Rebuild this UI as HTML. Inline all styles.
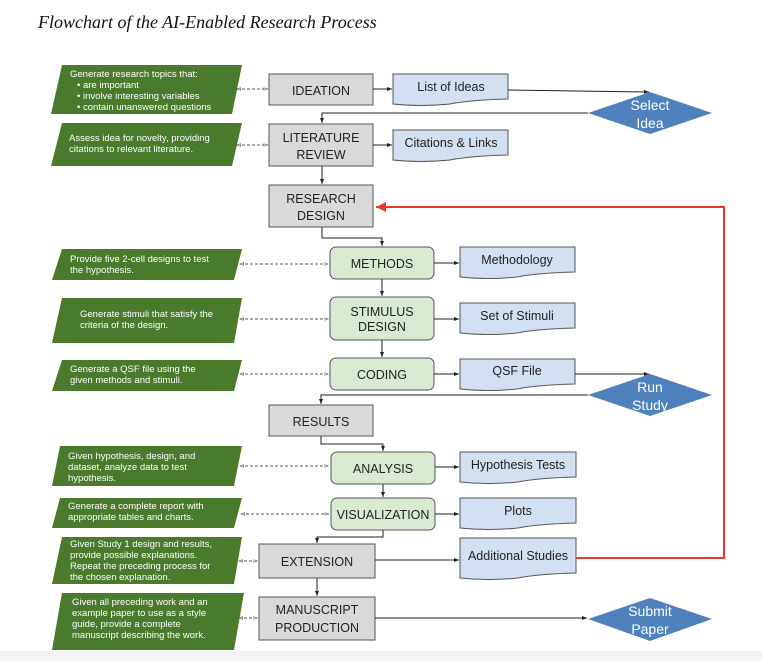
<!DOCTYPE html>
<html><head><style>
body{margin:0;background:#fff;}
svg{display:block;}
.w{font-family:"Liberation Sans",sans-serif;font-size:9.5px;fill:#fff;}
.b{font-family:"Liberation Sans",sans-serif;font-size:12.5px;fill:#222;text-anchor:middle;}
.d{font-family:"Liberation Sans",sans-serif;font-size:14px;fill:#fff;text-anchor:middle;}
</style></head><body>
<svg width="762" height="661" viewBox="0 0 762 661" xmlns="http://www.w3.org/2000/svg">
<defs>
<marker id="a" markerWidth="6" markerHeight="6" refX="5" refY="3" orient="auto"><path d="M0,1 L5,3 L0,5 z" fill="#222"/></marker>
<marker id="r" markerWidth="6" markerHeight="6" refX="5" refY="3" orient="auto"><path d="M0,0.5 L5,3 L0,5.5 z" fill="#e8392c"/></marker>
<marker id="o" markerWidth="6" markerHeight="6" refX="5" refY="3" orient="auto"><path d="M0,1.5 L4,3 L0,4.5 z" fill="#fff" stroke="#555" stroke-width="0.7"/></marker>
<marker id="os" markerWidth="6" markerHeight="6" refX="1" refY="3" orient="auto"><path d="M5,1.5 L1,3 L5,4.5 z" fill="#fff" stroke="#555" stroke-width="0.7"/></marker>
</defs>
<rect x="0" y="651" width="762" height="10" fill="#f4f4f4"/>
<text x="38" y="28" font-family="Liberation Serif,serif" font-style="italic" font-size="18" fill="#111">Flowchart of the AI-Enabled Research Process</text>

<g fill="#4a7a2c">
<polygon points="62,65 242,65 232,114 51,114"/>
<polygon points="62,123 242,123 232,166 51,166"/>
<polygon points="62,249 242,249 234,280 52,280"/>
<polygon points="62,298 242,298 234,343 52,343"/>
<polygon points="62,360 242,360 234,391 52,391"/>
<polygon points="60,446 242,446 234,486 52,486"/>
<polygon points="60,498 242,498 234,528 52,528"/>
<polygon points="62,537 242,537 234,584 52,584"/>
<polygon points="62,593 244,593 234,650 52,650"/>
</g>
<g class="w">
<text x="70" y="77">Generate research topics that:</text>
<text x="77" y="88">•  are important</text>
<text x="77" y="99">•  involve interesting variables</text>
<text x="77" y="110">•  contain unanswered questions</text>
<text x="69" y="141">Assess idea for novelty, providing</text>
<text x="69" y="152">citations to relevant literature.</text>
<text x="70" y="262">Provide five 2-cell designs to test</text>
<text x="70" y="273">the hypothesis.</text>
<text x="80" y="317">Generate stimuli that satisfy the</text>
<text x="80" y="328">criteria of the design.</text>
<text x="70" y="372">Generate a QSF file using the</text>
<text x="70" y="383">given methods and stimuli.</text>
<text x="68" y="459">Given hypothesis, design, and</text>
<text x="68" y="470">dataset, analyze data to test</text>
<text x="68" y="481">hypothesis.</text>
<text x="68" y="509">Generate a complete report with</text>
<text x="68" y="520">appropriate tables and charts.</text>
<text x="70" y="547">Given Study 1 design and results,</text>
<text x="70" y="558">provide possible explanations.</text>
<text x="70" y="569">Repeat the preceding process for</text>
<text x="70" y="580">the chosen explanation.</text>
<text x="72" y="605">Given all preceding work and an</text>
<text x="72" y="616">example paper to use as a style</text>
<text x="72" y="627">guide, provide a complete</text>
<text x="72" y="638">manuscript describing the work.</text>
</g>

<g stroke="#555" stroke-dasharray="3,2" stroke-width="0.9" marker-start="url(#os)" marker-end="url(#o)">
<line x1="237" y1="89" x2="268" y2="89"/>
<line x1="237" y1="145" x2="268" y2="145"/>
<line x1="240" y1="264" x2="329" y2="264"/>
<line x1="240" y1="319" x2="329" y2="319"/>
<line x1="240" y1="374" x2="329" y2="374"/>
<line x1="240" y1="466" x2="329" y2="466"/>
<line x1="241" y1="514" x2="329" y2="514"/>
<line x1="239" y1="561" x2="258" y2="561"/>
<line x1="239" y1="618" x2="258" y2="618"/>
</g>

<g fill="#d9d9d9" stroke="#555" stroke-width="1">
<rect x="269" y="74" width="104" height="31"/>
<rect x="269" y="124" width="104" height="42"/>
<rect x="269" y="185" width="104" height="42"/>
<rect x="269" y="405" width="104" height="31"/>
<rect x="259" y="544" width="116" height="34"/>
<rect x="259" y="597" width="116" height="43"/>
</g>
<g class="b">
<text x="321" y="95">IDEATION</text>
<text x="321" y="142">LITERATURE</text><text x="321" y="159">REVIEW</text>
<text x="321" y="203">RESEARCH</text><text x="321" y="220">DESIGN</text>
<text x="321" y="426">RESULTS</text>
<text x="317" y="566">EXTENSION</text>
<text x="317" y="614">MANUSCRIPT</text><text x="317" y="632">PRODUCTION</text>
</g>

<g fill="#d9ead3" stroke="#555" stroke-width="1">
<rect x="330" y="247" width="104" height="32" rx="6"/>
<rect x="330" y="297" width="104" height="43" rx="6"/>
<rect x="330" y="358" width="104" height="32" rx="6"/>
<rect x="331" y="452" width="104" height="32" rx="6"/>
<rect x="331" y="498" width="104" height="32" rx="6"/>
</g>
<g class="b">
<text x="382" y="268">METHODS</text>
<text x="382" y="316">STIMULUS</text><text x="382" y="331">DESIGN</text>
<text x="382" y="379">CODING</text>
<text x="383" y="473">ANALYSIS</text>
<text x="383" y="519">VISUALIZATION</text>
</g>

<g fill="#d3e0f1" stroke="#555" stroke-width="1">
<path d="M393,74 H508 V99 Q470,100 450,104 Q420,107 393,104 Z"/>
<path d="M393,130 H508 V155 Q470,156 450,160 Q420,163 393,160 Z"/>
<path d="M460,247 H575 V272 Q537,273 517,277 Q487,280 460,277 Z"/>
<path d="M460,303 H575 V328 Q537,329 517,333 Q487,336 460,333 Z"/>
<path d="M460,359 H575 V384 Q537,385 517,389 Q487,392 460,389 Z"/>
<path d="M460,452 H576 V477 Q538,478 518,482 Q488,485 460,482 Z"/>
<path d="M460,498 H576 V523 Q538,524 518,528 Q488,531 460,528 Z"/>
<path d="M460,538 H576 V573 Q538,574 518,578 Q488,581 460,578 Z"/>
</g>
<g class="b">
<text x="451" y="91">List of Ideas</text>
<text x="451" y="147">Citations &amp; Links</text>
<text x="517" y="264">Methodology</text>
<text x="517" y="320">Set of Stimuli</text>
<text x="517" y="375">QSF File</text>
<text x="518" y="469">Hypothesis Tests</text>
<text x="518" y="515">Plots</text>
<text x="518" y="560">Additional Studies</text>
</g>

<g fill="#4f81bd">
<polygon points="650,92 712,113 650,134 588,113"/>
<polygon points="650,374 712,395 650,416 588,395"/>
<polygon points="650,598 712,619 650,641 588,619"/>
</g>
<g class="d">
<text x="650" y="110">Select</text><text x="650" y="128">Idea</text>
<text x="650" y="392">Run</text><text x="650" y="410">Study</text>
<text x="650" y="616">Submit</text><text x="650" y="634">Paper</text>
</g>

<g stroke="#222" stroke-width="1" fill="none" marker-end="url(#a)">
<line x1="373" y1="89" x2="392" y2="89"/>
<path d="M508,90 L649,92"/>
<path d="M588,113 H322 V123"/>
<line x1="373" y1="145" x2="392" y2="145"/>
<line x1="322" y1="166" x2="322" y2="184"/>
<path d="M322,227 V238 H382 V246"/>
<line x1="434" y1="263" x2="459" y2="263"/>
<line x1="382" y1="279" x2="382" y2="296"/>
<line x1="434" y1="319" x2="459" y2="319"/>
<line x1="382" y1="340" x2="382" y2="357"/>
<line x1="434" y1="374" x2="459" y2="374"/>
<path d="M575,374 H649"/>
<path d="M588,395 H321 V404"/>
<path d="M321,436 V444 H383 V451"/>
<line x1="435" y1="467" x2="459" y2="467"/>
<line x1="383" y1="484" x2="383" y2="497"/>
<line x1="435" y1="514" x2="459" y2="514"/>
<path d="M383,530 V537 H317 V543"/>
<line x1="375" y1="560" x2="459" y2="560"/>
<line x1="317" y1="578" x2="317" y2="596"/>
<line x1="375" y1="618" x2="587" y2="618"/>
</g>
<path d="M576,558 H724 V207 H376" stroke="#e8392c" stroke-width="2" fill="none" marker-end="url(#r)"/>
</svg>
</body></html>
